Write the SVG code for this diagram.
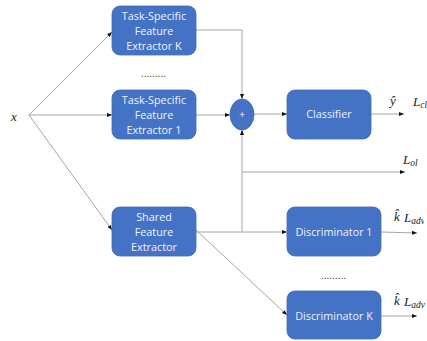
<svg xmlns="http://www.w3.org/2000/svg" width="427" height="341" viewBox="0 0 427 341">
<style>
.box{fill:#4472C4;stroke:#3f69b5;stroke-width:0.8}
.lbl{font-family:"Open Sans","Liberation Sans",sans-serif;font-size:10.8px;fill:#eef2fa;text-anchor:middle}
.ln{stroke:#a6a6a6;stroke-width:1;fill:none}
.ar{marker-end:url(#ah)}
.m{font-family:"Liberation Serif","DejaVu Serif",serif;font-style:italic;font-size:13px;fill:#222}
.sub{font-size:9.5px}
.dots{font-family:"Liberation Sans",sans-serif;font-size:10px;fill:#333}
</style>
<defs>
<marker id="ah" viewBox="0 0 10 10" refX="10" refY="5" markerWidth="5" markerHeight="5" orient="auto" markerUnits="userSpaceOnUse">
<path d="M0,1 L10,5 L0,9 z" fill="#111"/>
</marker>
<clipPath id="clip1"><rect x="0" y="0" width="424" height="341"/></clipPath>
</defs>
<rect width="427" height="341" fill="#fff"/>
<g id="connectors">
<path class="ln ar" d="M29,115 L112,32"/>
<path class="ln ar" d="M29,115 L112,115"/>
<path class="ln ar" d="M29,115 L112,230"/>
<path class="ln ar" d="M196,30 L242,30 L242,99"/>
<path class="ln ar" d="M196,115 L230,115"/>
<path class="ln ar" d="M254,114 L287,114"/>
<path class="ln ar" d="M371,114 L404,114"/>
<path class="ln ar" d="M196,232 L242,232 L242,130"/>
<path class="ln ar" d="M242,172 L405,172"/>
<path class="ln ar" d="M242,232 L287,232"/>
<path class="ln ar" d="M196,230 L287,315"/>
<path class="ln ar" d="M381,232 L417,233"/>
<path class="ln ar" d="M381,316 L417,316"/>
</g>
<g id="input"><text class="m" x="11" y="121">x</text></g>
<g id="extK">
<rect class="box" x="112" y="6" width="84" height="49" rx="8"/>
<text class="lbl" x="154" y="20">Task-Specific</text>
<text class="lbl" x="154" y="35">Feature</text>
<text class="lbl" x="154" y="50">Extractor K</text>
</g>
<g id="dots1"><text class="dots" x="141" y="77">.........</text></g>
<g id="ext1">
<rect class="box" x="112" y="90" width="84" height="49" rx="8"/>
<text class="lbl" x="154" y="104">Task-Specific</text>
<text class="lbl" x="154" y="119">Feature</text>
<text class="lbl" x="154" y="134">Extractor 1</text>
</g>
<g id="shared">
<rect class="box" x="112" y="207" width="84" height="49" rx="8"/>
<text class="lbl" x="154" y="221">Shared</text>
<text class="lbl" x="154" y="236">Feature</text>
<text class="lbl" x="154" y="251">Extractor</text>
</g>
<g id="plus">
<ellipse cx="242" cy="114.5" rx="12" ry="15.5" fill="#4472C4" stroke="#3f69b5" stroke-width="0.8"/>
<text class="lbl" x="242" y="118">+</text>
</g>
<g id="classifier">
<rect class="box" x="287" y="90" width="84" height="49" rx="8"/>
<text class="lbl" x="329" y="118">Classifier</text>
</g>
<g id="disc1">
<rect class="box" x="287" y="207" width="94" height="49" rx="8"/>
<text class="lbl" x="334" y="236">Discriminator 1</text>
</g>
<g id="dots2"><text class="dots" x="321" y="279">.........</text></g>
<g id="discK">
<rect class="box" x="287" y="291" width="94" height="48" rx="8"/>
<text class="lbl" x="334" y="320">Discriminator K</text>
</g>
<g id="labels">
<text class="m" x="390" y="105">y&#770;</text>
<text class="m" x="413" y="106">L<tspan class="sub" dy="2">cl</tspan></text>
<text class="m" x="403" y="164">L<tspan class="sub" dy="2">ol</tspan></text>
<text class="m" x="394" y="221">k&#770;</text>
<text class="m" x="404" y="222" clip-path="url(#clip1)">L<tspan class="sub" dy="2">adv</tspan></text>
<text class="m" x="394" y="305">k&#770;</text>
<text class="m" x="404" y="306">L<tspan class="sub" dy="2">adv</tspan></text>
</g>
</svg>
